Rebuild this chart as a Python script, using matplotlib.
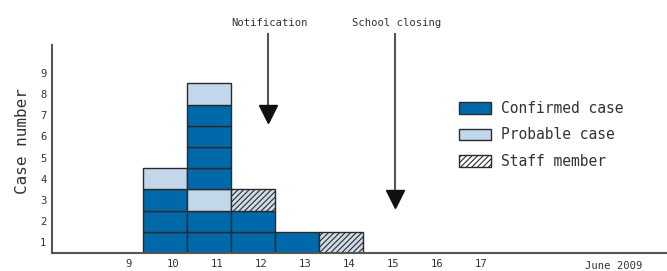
import matplotlib
matplotlib.use("Agg")
import matplotlib.pyplot as plt
from matplotlib.patches import Patch

# ---- data ----
days = [10, 11, 12, 13, 14]
# case type per stacked cell, bottom to top (C=confirmed, P=probable, S=staff)
stacks = [
    ["C", "C", "C", "P"],
    ["C", "C", "P", "C", "C", "C", "C", "P"],
    ["C", "C", "S"],
    ["C"],
    ["S"],
]
tick_days = [9, 10, 11, 12, 13, 14, 15, 16, 17]
y_ticks = [1, 2, 3, 4, 5, 6, 7, 8, 9]
events = ["Notification", "School closing"]
event_x = [12.34, 15.23]
event_tip = [6.18, 2.17]

styles = {
    "C": dict(facecolor="#0069AA", hatch=None, label="Confirmed case"),
    "P": dict(facecolor="#C3D7EA", hatch=None, label="Probable case"),
    "S": dict(facecolor="#CFDCEA", hatch="//////", label="Staff member"),
}

plt.rcParams["font.family"] = ["DejaVu Sans Mono"]
plt.rcParams["hatch.linewidth"] = 0.8

fig = plt.figure(figsize=(6.67, 2.71), dpi=100)
ax = fig.add_axes([52 / 667, 18 / 271, 1 - 52 / 667, (253 - 45) / 271])

edge = "#2a2a2a"
for d, stack in zip(days, stacks):
    for i, kind in enumerate(stack):
        st = styles[kind]
        ax.bar(d, 1, bottom=i, width=1.0, color=st["facecolor"], edgecolor=edge,
               linewidth=1.0, hatch=st["hatch"], zorder=2)

ax.set_xlim(7.43, 21.4)
ax.set_ylim(0, 9.81)

for s in ["top", "right"]:
    ax.spines[s].set_visible(False)
for s in ["left", "bottom"]:
    ax.spines[s].set_color("#555555")
    ax.spines[s].set_linewidth(1.5)

ax.set_xticks([t + 0.18 for t in tick_days])
ax.set_xticklabels([str(t) for t in tick_days], fontsize=7.6, color="#333333")
ax.set_yticks([y - 0.5 for y in y_ticks])
ax.set_yticklabels([str(y) for y in y_ticks], fontsize=7.6, color="#333333")
ax.tick_params(axis="x", length=0, pad=4.5)
ax.tick_params(axis="y", length=0, pad=4)
ax.text(20.2, -0.63, "June 2009", fontsize=7.6, color="#333333", ha="center", va="center",
        clip_on=False)

ax.set_ylabel("Case number", fontsize=11.5, color="#333333")
ax.yaxis.set_label_coords(-0.036, 0.54)

for name, x, tip in zip(events, event_x, event_tip):
    ax.plot([x, x], [10.35, tip + 0.5], color="#555555", lw=1.5, clip_on=False, zorder=3)
    ax.plot([x], [tip + 0.36], marker="v", markersize=13, color="#111111", clip_on=False,
            zorder=4, linestyle="none")
    ax.text(x + 0.03, 10.83, name, fontsize=7.6, color="#333333", ha="center", va="center",
            clip_on=False)

handles = [Patch(facecolor=styles[k]["facecolor"] if k != "S" else "white",
                 edgecolor=edge, hatch=styles[k]["hatch"], label=styles[k]["label"])
           for k in ["C", "P", "S"]]
leg = ax.legend(handles=handles, loc="upper left", bbox_to_anchor=(459 / 667, 1 - 101 / 271),
                bbox_transform=fig.transFigure, frameon=False, fontsize=10.5,
                handlelength=2.2, handleheight=0.85, handletextpad=0.7, labelspacing=0.78,
                borderpad=0, borderaxespad=0)
for t in leg.get_texts():
    t.set_color("#333333")

fig.savefig("out.png", dpi=100)
